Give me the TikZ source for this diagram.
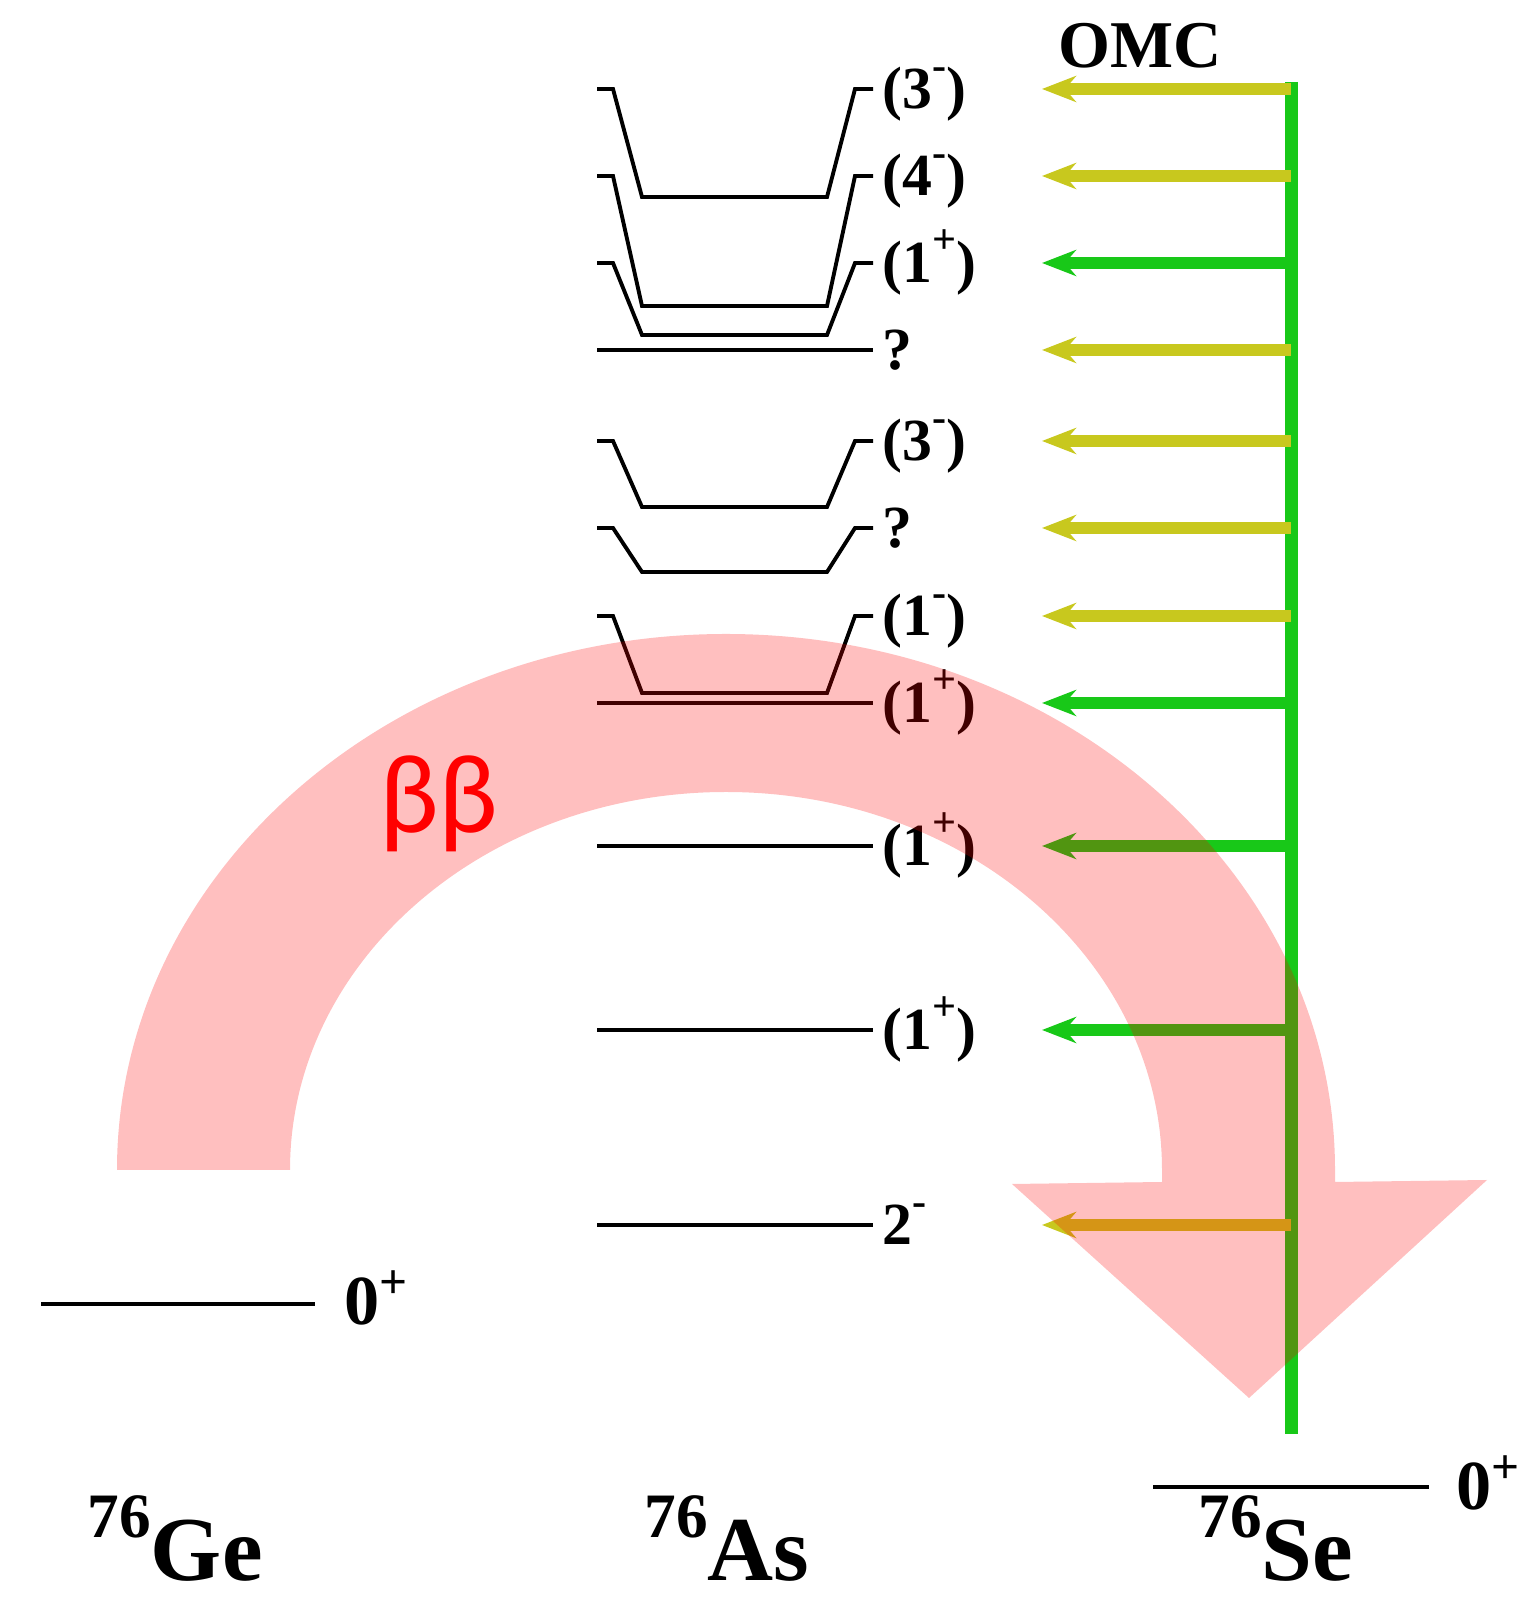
\documentclass[tikz,border=0pt]{standalone}
\usepackage{fontspec}
\setmainfont{Liberation Serif}
\newfontfamily\betafont{Carlito}
\usetikzlibrary{arrows.meta}

\definecolor{omcy}{RGB}{200,200,30}
\definecolor{omcg}{RGB}{24,200,24}
\newcommand{\jp}[1]{\raisebox{0.5em}{\fontsize{12}{12}\selectfont #1}}

\begin{document}
\begin{tikzpicture}[
          lvline/.style={line width=1.1pt},
          spin/.style={font=\fontsize{17}{19}\selectfont\bfseries, inner sep=0pt, anchor=base west},
          gs/.style={font=\fontsize{20}{22}\selectfont\bfseries, inner sep=0pt, anchor=base west},
          nucl/.style={font=\fontsize{26}{28}\selectfont\bfseries, inner sep=0pt, anchor=base west},
          omc/.style={line width=3.4pt, -{Stealth[length=3.4mm,width=2.6mm]}},
          bbarrow/.style={fill=red, fill opacity=0.25}
      ]
      \useasboundingbox (0,0) rectangle (15.38,16.02);

      % ground states
      \draw[lvline] (0.41,2.98) -- (3.15,2.98);
      \node[gs] (ge0) at (3.44,2.77) {0\textsuperscript{+}};
      \draw[lvline] (11.53,1.15) -- (14.29,1.15);
      \node[gs] (se0) at (14.56,0.92) {0\textsuperscript{+}};

      \node[nucl] (ge) at (0.87,0.22) {\raisebox{12pt}{\fontsize{18}{20}\selectfont 76}Ge};
      \node[nucl] (as) at (6.44,0.22) {\raisebox{12pt}{\fontsize{18}{20}\selectfont 76}As};
      \node[nucl] (se) at (11.98,0.22) {\raisebox{12pt}{\fontsize{18}{20}\selectfont 76}Se};

      % OMC line
      \node[font=\fontsize{19}{21}\selectfont\bfseries] (omc) at (11.40,15.56) {OMC};
      \coordinate (omctop) at (12.91,15.20);
      \coordinate (omcbot) at (12.91,1.68);
      \draw[omcg, line width=3.7pt] (omctop) -- (omcbot);

      % 76As levels
      \foreach \i/\t/\b/\s/\c in {
          1/15.13/14.05/(3\jp{-})/omcy,
          2/14.26/12.96/(4\jp{-})/omcy,
          3/13.39/12.67/(1\jp{+})/omcg,
          4/12.52/12.52/?/omcy,
          5/11.61/10.95/(3\jp{-})/omcy,
          6/10.74/10.30/?/omcy,
          7/9.86/9.09/(1\jp{-})/omcy,
          8/8.99/8.99/(1\jp{+})/omcg,
          9/7.56/7.56/(1\jp{+})/omcg,
          10/5.72/5.72/(1\jp{+})/omcg,
          11/3.77/3.77/2\jp{-}/omcy} {
          \draw[lvline] (5.97,\t) -- (6.13,\t) -- (6.42,\b) -- (8.27,\b) -- (8.55,\t) -- (8.73,\t);
          \node[spin] (l\i) at (8.82,\t-0.2) {\s};
          \coordinate (s\i) at (12.91,\t);
          \coordinate (t\i) at (10.42,\t);
          \draw[omc, draw=\c, fill=\c] (s\i) -- (t\i);
      }

      % double beta arrow
      \fill[bbarrow] (1.17,4.32) arc[start angle=180, end angle=0, x radius=6.09, y radius=5.36]
          -- (13.35,4.20) -- (14.87,4.22) -- (12.49,2.04) -- (10.12,4.18) -- (11.62,4.20) -- (11.62,4.32)
          arc[start angle=0, end angle=180, x radius=4.36, y radius=3.78] -- cycle;
      \node[text=red, font=\betafont\fontsize{32}{34}\selectfont, anchor=base] (bb) at (4.39,7.69) {ββ};

      \end{tikzpicture}
\end{document}
